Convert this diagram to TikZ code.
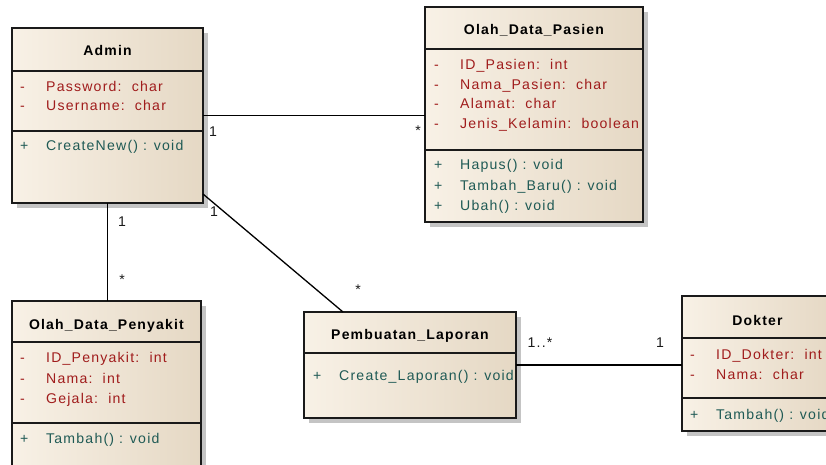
\documentclass[tikz,border=0pt]{standalone}
\usepackage{fontspec}
\setmainfont{Liberation Sans}[LetterSpace=8.5]
\usetikzlibrary{shadows,calc}
\definecolor{boxL}{HTML}{F8F1E6}
\definecolor{boxR}{HTML}{E5D8C4}
\definecolor{attrc}{HTML}{A01C1C}
\definecolor{operc}{HTML}{1F5A55}
\definecolor{shd}{HTML}{C4C4C4}
\definecolor{edgec}{HTML}{1A1A1A}
\newcommand\memfont{\fontsize{14.1pt}{17pt}\selectfont}
\newcommand\ttlfont{\fontsize{14pt}{17pt}\selectfont\bfseries}
\tikzset{
  cls/.style={draw=edgec, line width=1.3pt, left color=boxL, right color=boxR,
    inner sep=0pt, outer sep=0pt, anchor=north west,
    general shadow={fill=shd, shadow xshift=5pt, shadow yshift=-5pt}},
  sepline/.style={draw=edgec, line width=1.3pt},
  txt/.style={anchor=base west, inner sep=0pt, font=\memfont},
  ttl/.style={anchor=base, inner sep=0pt, font=\ttlfont, text=black},
  mult/.style={inner sep=0pt, font=\memfont, text=black!90},
  conn/.style={draw=black, line width=1.3pt},
}
\newcommand\mem[6]{%
  \node[txt, text=#4] (#1s) at (#2,#3) {#5};
  \node[txt, text=#4] (#1) at (#2+26,#3) {#6};}
\begin{document}
\begin{tikzpicture}[x=1pt, y=-1pt]
\useasboundingbox (0,0) rectangle (826,465);
% boxes
\node[cls, minimum width=191pt, minimum height=175pt] (admin) at (12,28) {};
\node[cls, minimum width=218pt, minimum height=215pt] (pasien) at (425,7) {};
\node[cls, minimum width=189pt, minimum height=190pt] (penyakit) at (12,301) {};
\node[cls, minimum width=212pt, minimum height=106pt] (laporan) at (304,312) {};
\node[cls, minimum width=151pt, minimum height=135pt] (dokter) at (682,296) {};
% separators
\draw[sepline] (admin.west |- 0,71) -- (admin.east |- 0,71);
\draw[sepline] (admin.west |- 0,131) -- (admin.east |- 0,131);
\draw[sepline] (pasien.west |- 0,49) -- (pasien.east |- 0,49);
\draw[sepline] (pasien.west |- 0,150) -- (pasien.east |- 0,150);
\draw[sepline] (penyakit.west |- 0,342) -- (penyakit.east |- 0,342);
\draw[sepline] (penyakit.west |- 0,423) -- (penyakit.east |- 0,423);
\draw[sepline] (laporan.west |- 0,353) -- (laporan.east |- 0,353);
\draw[sepline] (dokter.west |- 0,338) -- (dokter.east |- 0,338);
\draw[sepline] (dokter.west |- 0,398) -- (dokter.east |- 0,398);
% titles
\node[ttl] (tadmin) at (107.5,56) {Admin};
\node[ttl] (tpasien) at (534,35) {Olah\_Data\_Pasien};
\node[ttl] (tpenyakit) at (106.5,329) {Olah\_Data\_Penyakit};
\node[ttl] (tlaporan) at (410,339) {Pembuatan\_Laporan};
\node[ttl] (tdokter) at (757.5,325) {Dokter};
% members
\mem{a1}{20}{92}{attrc}{-}{Password:\ \ char}
\mem{a2}{20}{111}{attrc}{-}{Username:\ \ char}
\mem{a3}{20}{151}{operc}{+}{CreateNew() : void}
\mem{p1}{434}{70}{attrc}{-}{ID\_Pasien:\ \ int}
\mem{p2}{434}{90}{attrc}{-}{Nama\_Pasien:\ \ char}
\mem{p3}{434}{109}{attrc}{-}{Alamat:\ \ char}
\mem{p4}{434}{129}{attrc}{-}{Jenis\_Kelamin:\ \ boolean}
\mem{p5}{434}{170}{operc}{+}{Hapus() : void}
\mem{p6}{434}{190}{operc}{+}{Tambah\_Baru() : void}
\mem{p7}{434}{210}{operc}{+}{Ubah() : void}
\mem{k1}{20}{362}{attrc}{-}{ID\_Penyakit:\ \ int}
\mem{k2}{20}{383}{attrc}{-}{Nama:\ \ int}
\mem{k3}{20}{403}{attrc}{-}{Gejala:\ \ int}
\mem{k4}{20}{443}{operc}{+}{Tambah() : void}
\mem{l1}{313}{380}{operc}{+}{Create\_Laporan() : void}
\mem{d1}{690}{359}{attrc}{-}{ID\_Dokter:\ \ int}
\mem{d2}{690}{379}{attrc}{-}{Nama:\ \ char}
\mem{d3}{690}{419}{operc}{+}{Tambah() : void}
% connectors
\draw[conn] (admin.east) -- (admin.east -| pasien.west);
\draw[conn] (admin.south) -- (admin.south |- penyakit.north);
\draw[conn] ([yshift=9pt]admin.south east) -- ([xshift=39pt]laporan.north west);
\draw[conn] (laporan.east) -- (laporan.east -| dokter.west);
% multiplicities
\node[mult] (m1) at (213,132) {1};
\node[mult] (m2) at (418,131) {*};
\node[mult] (m3) at (122,222) {1};
\node[mult] (m4) at (122,280) {*};
\node[mult] (m5) at (214,212) {1};
\node[mult] (m6) at (358,290) {*};
\node[mult] (m7) at (540,343) {1..*};
\node[mult] (m8) at (660,343) {1};
\end{tikzpicture}
\end{document}
